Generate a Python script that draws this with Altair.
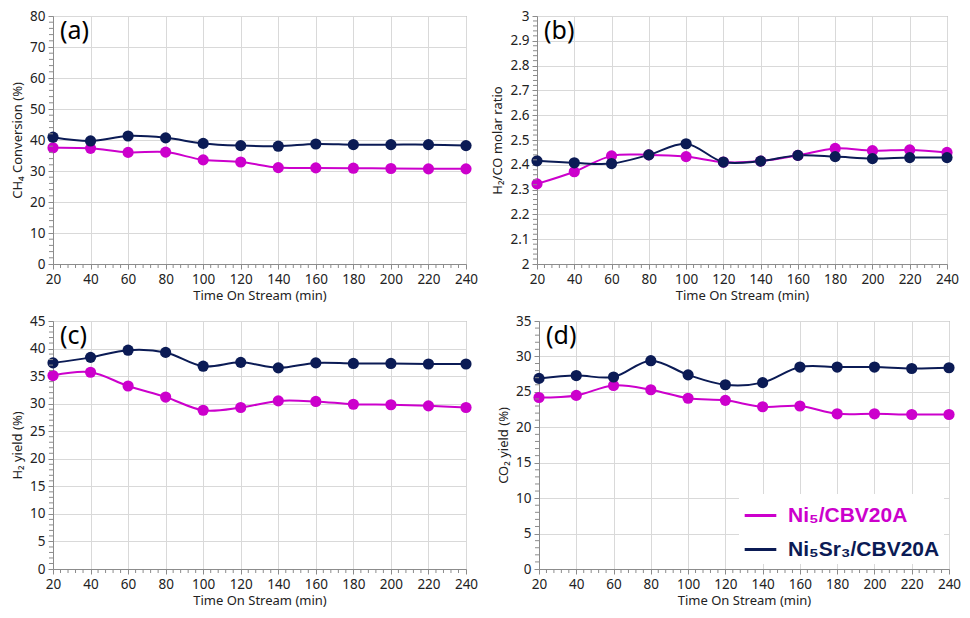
import altair as alt
import pandas as pd

# ---------------- data ----------------
time_min = [20, 40, 60, 80, 100, 120, 140, 160, 180, 200, 220, 240]
series_names = ["Ni₅/CBV20A", "Ni₅Sr₃/CBV20A"]
series_colors = ["#CC00CC", "#0B1B55"]

a_ni = [37.5, 37.3, 36.0, 36.1, 33.6, 32.9, 31.1, 31.0, 30.9, 30.8, 30.7, 30.7]
a_nisr = [40.9, 39.7, 41.3, 40.7, 38.9, 38.2, 38.0, 38.7, 38.5, 38.5, 38.5, 38.2]
b_ni = [2.323, 2.372, 2.436, 2.440, 2.433, 2.411, 2.415, 2.438, 2.466, 2.457, 2.460, 2.450]
b_nisr = [2.416, 2.408, 2.405, 2.440, 2.485, 2.411, 2.415, 2.438, 2.433, 2.425, 2.429, 2.429]
c_ni = [35.1, 35.7, 33.2, 31.2, 28.8, 29.3, 30.5, 30.4, 29.9, 29.8, 29.6, 29.3]
c_nisr = [37.4, 38.4, 39.7, 39.3, 36.8, 37.5, 36.5, 37.4, 37.3, 37.3, 37.2, 37.2]
d_ni = [24.2, 24.5, 25.9, 25.3, 24.1, 23.8, 22.9, 23.0, 21.9, 21.9, 21.8, 21.8]
d_nisr = [26.9, 27.3, 27.1, 29.4, 27.4, 26.0, 26.3, 28.5, 28.5, 28.5, 28.3, 28.4]

x_major = [20, 40, 60, 80, 100, 120, 140, 160, 180, 200, 220, 240]
x_minor = [v for v in range(20, 241, 4) if v not in x_major]

FONT = "Noto Sans"
GRID = "#D9D9D9"
AXIS = "#8C8C8C"


def make_df(ni, nisr):
    rows = []
    for t, v in zip(time_min, ni):
        rows.append({"t": t, "v": v, "s": series_names[0]})
    for t, v in zip(time_min, nisr):
        rows.append({"t": t, "v": v, "s": series_names[1]})
    return pd.DataFrame(rows)


def panel(ni, nisr, ytitle, ymin, ymax, ystep, label, width, height, legend=False, ndec=0):
    df = make_df(ni, nisr)
    n_major = int(round((ymax - ymin) / ystep))
    y_major = [round(ymin + i * ystep, 4) for i in range(n_major + 1)]
    y_minor = [round(ymin + i * ystep / 5, 4) for i in range(n_major * 5 + 1)]
    y_minor = [v for v in y_minor if v not in y_major]

    xs = alt.Scale(domain=[20, 240], nice=False, zero=False)
    ys = alt.Scale(domain=[ymin, ymax], nice=False, zero=False)

    if legend:
        leg = alt.Legend(
            title=None,
            orient="bottom-right",
            offset=5,
            symbolType="stroke",
            symbolSize=1000,
            symbolStrokeWidth=3,
            labelFont="Liberation Sans",
            labelFontSize=21,
            labelFontWeight="bold",
            labelColor={"expr": "datum.value == '%s' ? '%s' : '%s'" % (series_names[0], series_colors[0], series_colors[1])},
            rowPadding=6,
            labelOffset=10,
            symbolOffset=0,
            padding=4,
            fillColor="white",
        )
    else:
        leg = None

    color = alt.Color("s:N", scale=alt.Scale(domain=series_names, range=series_colors), legend=leg)

    fmt = ".1~f" if ndec else "d"
    xaxis = alt.Axis(values=x_major, title="Time On Stream (min)", grid=True, labelFlush=False,
                     tickSize=5, labelPadding=3, titlePadding=4)
    yaxis = alt.Axis(values=y_major, title=ytitle, grid=True, format=fmt, labelFlush=False,
                     tickSize=5, labelPadding=3, titlePadding=5)
    base = alt.Chart(df).encode(
        x=alt.X("t:Q", scale=xs, axis=xaxis),
        y=alt.Y("v:Q", scale=ys, axis=yaxis),
        color=color,
    )
    line = base.mark_line(strokeWidth=2, interpolate="catmull-rom")
    pts = base.mark_circle(size=125, opacity=1)

    yminor_df = pd.DataFrame({"v": y_minor})
    xminor_df = pd.DataFrame({"t": x_minor})
    yticks = alt.Chart(yminor_df).mark_rule(color=AXIS, strokeWidth=1).encode(
        y=alt.Y("v:Q", scale=ys, axis=yaxis), x=alt.value(-4), x2=alt.value(0))
    xticks = alt.Chart(xminor_df).mark_rule(color=AXIS, strokeWidth=1).encode(
        x=alt.X("t:Q", scale=xs, axis=xaxis), y=alt.value(height), y2=alt.value(height + 4))

    lab = alt.Chart(pd.DataFrame({"lab": [label]})).mark_text(
        align="left", baseline="top", fontSize=25, font=FONT, color="black"
    ).encode(x=alt.value(7), y=alt.value(3), text="lab:N")

    return alt.layer(line, pts, yticks, xticks, lab).properties(width=width, height=height)


H = 248
pa = panel(a_ni, a_nisr, "CH₄ Conversion (%)", 0, 80, 10, "(a)", 413, H)
pb = panel(b_ni, b_nisr, "H₂/CO molar ratio", 2, 3, 0.1, "(b)", 410, H, ndec=1)
pc = panel(c_ni, c_nisr, "H₂ yield (%)", 0, 45, 5, "(c)", 413, H)
pd_ = panel(d_ni, d_nisr, "CO₂ yield (%)", 0, 35, 5, "(d)", 410, H, legend=True)

row1 = alt.hconcat(pa, pb, spacing=12).resolve_scale(color="independent").resolve_legend(color="independent")
row2 = alt.hconcat(pc, pd_, spacing=18).resolve_scale(color="independent").resolve_legend(color="independent")

chart = alt.vconcat(row1, row2, spacing=10).resolve_scale(color="independent").resolve_legend(color="independent").configure(
    padding={"left": 3, "top": 0, "right": 0, "bottom": 0},
    font=FONT,
).configure_view(
    stroke=AXIS, strokeWidth=1
).configure_axis(
    labelFont=FONT, titleFont=FONT, labelFontSize=13.5, titleFontSize=13,
    titleFontWeight="normal", labelColor="#222", titleColor="#222",
    gridColor=GRID, gridWidth=1, domainColor=AXIS, tickColor=AXIS,
)

chart.save("out.html", embed_options={"renderer": "svg", "actions": False})
